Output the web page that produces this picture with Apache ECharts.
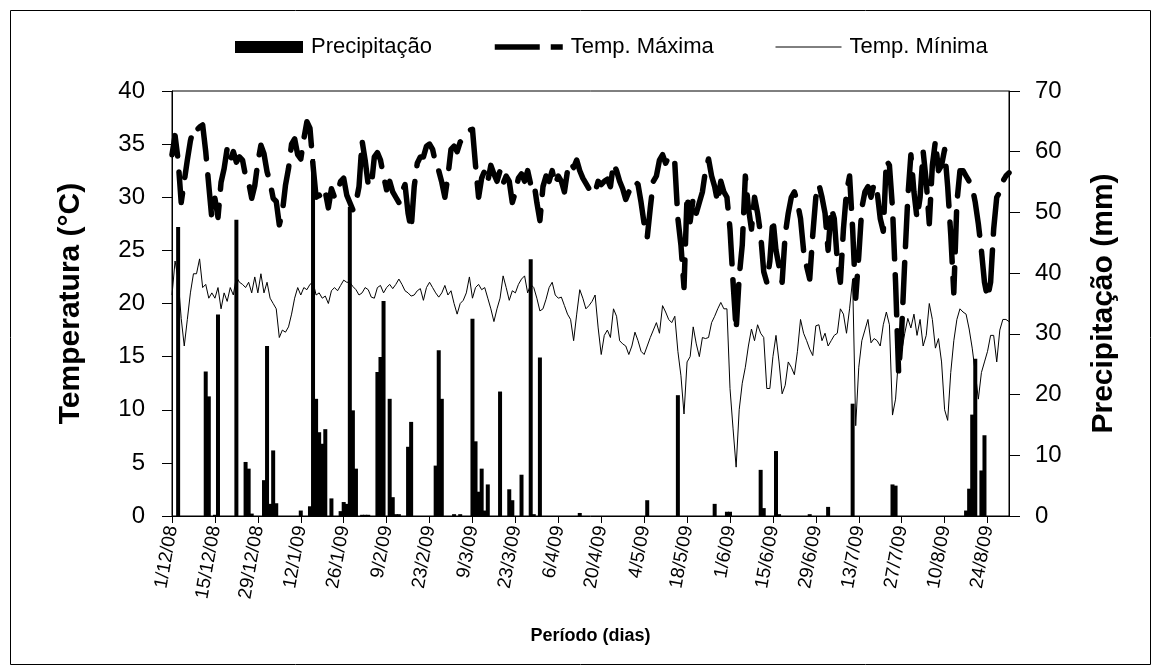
<!DOCTYPE html>
<html>
<head>
<meta charset="utf-8">
<script src="https://cdn.jsdelivr.net/npm/echarts@6/dist/echarts.min.js"></script>
<style>
html,body{margin:0;padding:0;background:#fff;}
#chart{width:1157px;height:670px;}
</style>
</head>
<body>
<div id="chart"></div>
<script>
// ---- data (daily, 1/12/2008 .. 31/8/2009) ----
var startDate = [2008, 12, 1];
var dayCount = 274;

var tempMax = [
34.0,35.8,33.5,29.5,31.5,33.5,35.3,36.5,36.3,36.6,36.8,34.3,31.1,28.0,29.9,28.1,31.4,32.7,34.6,33.5,
34.3,33.3,33.8,33.5,32.0,31.4,29.9,31.1,33.3,34.9,34.1,32.4,31.4,29.9,29.6,27.4,28.6,31.1,32.7,35.0,
35.5,34.0,33.6,35.5,37.1,36.5,33.0,30.0,30.2,29.8,30.5,29.0,30.8,30.0,30.5,31.5,31.8,30.2,29.5,28.8,
29.5,31.0,35.3,33.5,31.2,31.0,33.8,34.2,33.5,32.0,30.7,31.5,30.5,30.0,29.5,30.5,31.2,28.5,27.0,31.0,
33.2,33.8,33.8,34.8,35.0,34.5,33.2,32.5,31.4,30.0,32.0,34.5,34.8,34.3,35.2,35.5,36.0,36.3,36.4,33.0,
30.0,31.8,32.5,31.5,33.0,32.2,31.5,32.5,31.3,32.0,31.5,29.5,30.5,31.8,32.2,31.5,32.5,31.2,31.5,29.5,
27.8,31.0,32.0,31.5,32.5,31.2,32.0,31.5,30.5,32.5,33.3,32.8,33.5,32.5,31.8,31.3,30.8,31.0,30.5,31.5,
31.2,31.5,31.7,31.0,33.2,32.5,31.5,30.8,29.8,30.5,31.3,31.5,31.2,29.5,27.5,26.2,29.0,31.5,32.0,33.5,
34.0,33.2,33.8,33.9,33.2,28.0,25.5,21.5,30.2,27.7,29.9,28.5,29.5,30.5,32.5,33.6,32.0,31.0,29.5,31.5,
30.5,30.0,27.0,22.0,17.5,22.5,25.5,32.0,29.0,27.0,30.0,28.5,26.5,23.0,22.0,24.0,28.0,25.0,23.5,22.0,
26.5,28.5,30.0,30.5,29.5,28.0,25.0,23.5,22.3,26.5,30.0,31.2,30.0,28.5,25.0,29.0,28.0,24.0,22.0,27.0,
30.5,32.0,27.0,20.5,24.5,29.0,30.5,31.0,30.0,31.3,30.5,28.0,26.8,33.5,33.0,29.0,22.0,13.5,17.5,24.0,
30.0,34.0,30.5,28.0,30.0,34.3,31.5,27.5,33.0,35.3,32.5,33.0,34.5,31.0,26.5,21.0,29.5,32.5,32.5,32.0,
31.5,31.0,29.5,27.5,25.0,22.0,20.5,22.0,27.0,30.0,30.5,31.5,32.0,32.3
];

var tempMin = [
20.8,24.0,22.3,18.6,16.0,18.5,21.0,22.8,22.8,24.2,21.5,21.8,20.5,21.0,20.5,21.5,19.5,21.0,20.2,21.5,
20.8,22.5,22.0,21.8,21.5,22.0,21.0,22.5,21.0,22.8,21.0,22.0,20.5,20.0,19.5,16.8,17.5,17.3,17.8,19.0,
20.5,21.5,20.8,21.5,21.3,21.8,22.0,20.8,21.0,20.5,20.7,20.0,21.2,21.5,21.2,21.7,22.2,22.0,22.0,21.6,
21.3,20.8,21.0,21.5,21.3,20.6,20.5,21.5,21.7,21.0,21.5,21.8,21.4,21.8,22.3,21.8,21.2,21.0,20.7,20.8,
21.2,21.4,20.3,21.5,22.0,21.5,21.0,20.6,21.0,21.7,20.8,21.2,20.0,19.0,20.0,20.3,21.0,22.5,20.5,21.5,
21.8,21.3,21.5,20.5,19.5,18.3,19.5,20.5,22.6,21.5,20.3,21.2,21.0,21.8,22.3,22.6,21.0,21.8,21.5,20.5,
19.3,19.5,20.4,21.5,22.0,20.8,20.5,20.6,19.8,19.0,18.5,16.5,19.0,21.3,20.5,19.5,19.8,20.2,20.8,17.7,
15.2,17.0,17.5,16.8,19.5,18.8,16.5,16.2,16.0,15.2,16.0,17.3,16.5,15.5,15.2,16.0,16.8,17.5,18.2,17.2,
19.8,19.2,18.5,18.2,18.8,15.5,13.2,9.6,14.5,15.0,17.8,16.2,15.0,16.8,16.7,16.8,18.2,18.8,19.5,20.1,
19.5,19.5,12.0,8.2,4.6,10.0,12.5,14.0,16.0,17.6,16.5,18.0,17.2,16.8,12.0,12.0,15.0,17.0,14.5,11.5,
12.3,14.5,14.0,13.3,15.5,18.5,17.2,16.5,15.7,15.1,17.9,18.0,16.5,17.2,16.0,16.5,17.0,17.2,19.5,19.0,
17.2,19.5,22.3,8.5,14.0,16.5,17.5,18.5,16.3,16.7,16.5,16.0,18.0,19.2,18.0,9.5,11.0,15.0,15.5,17.2,
18.6,17.7,19.0,17.0,18.5,16.0,17.0,20.0,18.5,15.8,16.7,14.5,10.0,9.0,13.5,16.5,18.5,19.5,19.2,19.0,
17.6,15.8,13.5,11.0,13.5,14.5,15.5,17.0,17.0,14.5,17.5,18.5,18.5,18.3
];

var precip = [
0,0,47.6,0,0,0,0,0,0,0,0,23.8,19.7,0,0.2,33.2,0,0,0,0,
0,48.8,0,0,8.9,7.8,0.4,0,0,0,5.9,28.0,2.0,10.8,2.1,0,0,0,0,0,
0,0,0.9,0,0,1.6,58.8,19.3,13.8,11.9,14.3,0,2.9,0,0,0.8,2.3,2.0,50.9,17.4,
7.8,0,0.2,0.2,0.2,0,0,23.7,26.2,35.4,0,19.3,3.1,0.3,0.3,0,0,11.4,15.5,0,
0,0,0,0,0,0,8.3,27.3,19.3,0,0,0,0.3,0,0.3,0,0,0,32.5,12.3,
4.0,7.8,0.9,5.2,0,0,0,20.5,0,0,4.4,2.6,0,0,6.8,0,0,42.3,0.3,0,
26.1,0,0,0,0,0,0,0,0,0,0,0,0,0.5,0,0,0,0,0,0,
0,0,0,0,0,0,0,0,0,0,0,0,0,0,0,2.6,0,0,0,0,
0,0,0,0,0,19.9,0,0,0,0,0,0,0,0,0,0,0,2.0,0,0,
0,0.7,0.7,0,0,0,0,0,0,0,0,0,7.6,1.3,0,0,0,10.7,0.3,0,
0,0,0,0,0,0,0,0,0.3,0,0,0,0,0,1.5,0,0,0,0,0,
0,0,18.5,0,0,0,0,0,0,0,0,0,0,0,0,5.2,5.0,0,0,0,
0,0,0,0,0,0,0,0,0,0,0,0,0,0,0,0,0,0,0,0.9,
4.5,16.7,25.9,0,7.5,13.3,0,0,0,0,0,0,0,0
];

var leftTicks = {min: 0, max: 40, interval: 5};
var rightTicks = {min: 0, max: 70, interval: 10};

// categories: one per day
var categories = [];
(function () {
  var d = new Date(startDate[0], startDate[1] - 1, startDate[2]);
  for (var i = 0; i < dayCount; i++) {
    categories.push(d.getDate() + '/' + (d.getMonth() + 1) + '/' + String(d.getFullYear()).slice(2));
    d.setDate(d.getDate() + 1);
  }
})();

var FONT = '"Liberation Sans", Arial, sans-serif';
var chart = echarts.init(document.getElementById('chart'));

var legendText = {fontFamily: FONT, fontSize: 22, color: '#000', padding: [0, 0, 0, 3]};

chart.setOption({
  backgroundColor: '#fff',
  animation: false,
  textStyle: {fontFamily: FONT, color: '#000'},
  graphic: [{
    type: 'rect', left: 8, top: 8, silent: true,
    shape: {width: 1140, height: 654},
    style: {fill: 'none', stroke: '#000', lineWidth: 1}
  }],
  legend: [
    {data: [{name: 'Precipitação', icon: 'rect'}], left: 235, top: 36, padding: 0, itemWidth: 68, itemHeight: 12, itemGap: 0,
     textStyle: legendText},
    {data: ['Temp. Máxima'], left: 492, top: 36, padding: 0, itemWidth: 68, itemHeight: 12, itemGap: 0,
     itemStyle: {opacity: 0},
     lineStyle: {color: '#000', width: 5.5, type: [45, 11], cap: 'butt'},
     textStyle: legendText},
    {data: ['Temp. Mínima'], left: 775, top: 36, padding: 0, itemWidth: 66, itemHeight: 12, itemGap: 0,
     itemStyle: {opacity: 0},
     lineStyle: {color: '#000', width: 1},
     textStyle: legendText}
  ],
  grid: {left: 172, right: 148, top: 91, bottom: 154, show: true, borderColor: '#000', borderWidth: 1, containLabel: false},
  xAxis: {
    type: 'category',
    data: categories,
    boundaryGap: false,
    name: 'Período (dias)',
    nameLocation: 'middle',
    nameGap: 111,
    nameTextStyle: {fontFamily: FONT, fontSize: 18, fontWeight: 'bold', color: '#000'},
    axisLine: {lineStyle: {color: '#000', width: 1}},
    axisTick: {interval: 13, length: 7, lineStyle: {color: '#000'}},
    axisLabel: {interval: 13, rotate: 80, margin: 10, fontFamily: FONT, fontSize: 19, color: '#000'},
    splitLine: {show: false}
  },
  yAxis: [{
    type: 'value',
    min: leftTicks.min, max: leftTicks.max, interval: leftTicks.interval,
    name: 'Temperatura (°C)',
    nameLocation: 'middle',
    nameRotate: 90,
    nameGap: 86,
    nameTextStyle: {fontFamily: FONT, fontSize: 30, fontWeight: 'bold', color: '#000'},
    axisLine: {show: true, lineStyle: {color: '#000', width: 1}},
    axisTick: {show: true, length: 10, lineStyle: {color: '#000'}},
    axisLabel: {margin: 27, fontFamily: FONT, fontSize: 24, color: '#000'},
    splitLine: {show: false}
  }, {
    type: 'value',
    position: 'right',
    min: rightTicks.min, max: rightTicks.max, interval: rightTicks.interval,
    name: 'Precipitação (mm)',
    nameLocation: 'middle',
    nameRotate: 90,
    nameGap: 80,
    nameTextStyle: {fontFamily: FONT, fontSize: 30, fontWeight: 'bold', color: '#000'},
    axisLine: {show: true, lineStyle: {color: '#000', width: 1}},
    axisTick: {show: true, length: 11, lineStyle: {color: '#000'}},
    axisLabel: {margin: 26, fontFamily: FONT, fontSize: 24, color: '#000'},
    splitLine: {show: false}
  }],
  series: [{
    name: 'Precipitação',
    type: 'bar',
    yAxisIndex: 1,
    data: precip,
    barWidth: 4,
    itemStyle: {color: '#000'},
    z: 1
  }, {
    name: 'Temp. Mínima',
    type: 'line',
    yAxisIndex: 0,
    data: tempMin,
    symbol: 'none',
    lineStyle: {color: '#000', width: 1},
    itemStyle: {color: '#000'},
    z: 2
  }, {
    name: 'Temp. Máxima',
    type: 'line',
    yAxisIndex: 0,
    data: tempMax,
    symbol: 'none',
    lineStyle: {color: '#000', width: 5.5, type: [40, 16], cap: 'round', join: 'round'},
    itemStyle: {color: '#000'},
    z: 3
  }]
});
</script>
</body>
</html>
